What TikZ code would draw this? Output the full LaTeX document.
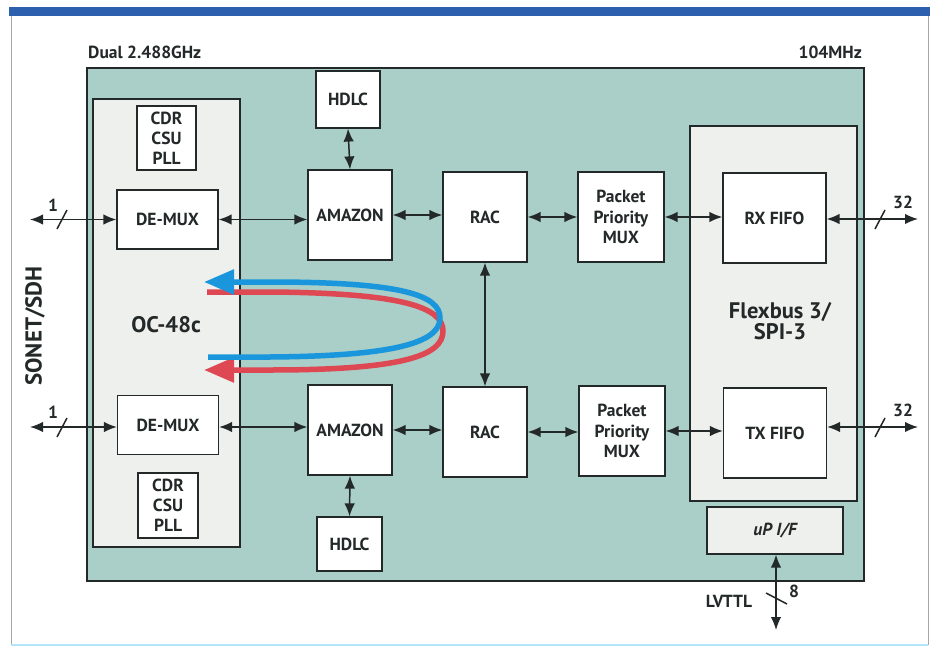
\documentclass[tikz,border=0pt]{standalone}
\usepackage{fontspec}
\setmainfont{PT Sans}
\usetikzlibrary{arrows.meta}
\definecolor{tealbg}{RGB}{170,206,200}
\definecolor{panelgray}{RGB}{238,240,238}
\definecolor{barblue}{RGB}{45,95,175}
\definecolor{loopblue}{RGB}{25,150,220}
\definecolor{loopred}{RGB}{222,72,82}
\definecolor{linedark}{RGB}{35,40,40}
\tikzset{
  blk/.style={draw=linedark, line width=1.2pt, fill=white, inner sep=0pt, align=center,
              font=\bfseries\fontsize{17.5}{19}\selectfont, text=linedark},
  conn/.style={{Latex[length=13pt,width=10.5pt]}-{Latex[length=13pt,width=10.5pt]}, line width=1.5pt, draw=linedark},
  slash/.style={line width=1.5pt, draw=linedark},
  lbl/.style={font=\bfseries\fontsize{17.5}{19}\selectfont, text=linedark, inner sep=0pt},
  loop/.style={line width=5.5pt, line cap=butt}
}
\begin{document}
\begin{tikzpicture}[x=1pt,y=-1pt]
\useasboundingbox (0,0) rectangle (933,647);
% outer frame
\draw[line width=0.8pt, draw=gray!70] (11,14) -- (11,645);
\draw[line width=0.8pt, draw=gray!70] (928,14) -- (928,645);
\draw[line width=1.2pt, draw=cyan!30] (11,645) -- (928,645);
\fill[barblue] (9,7) rectangle (930,16);
% headers
\node[lbl, anchor=west] (dual) at (88,52) {Dual 2.488GHz};
\node[lbl, anchor=east] (mhz) at (862,52) {104MHz};
% teal area
\draw[line width=1.3pt, draw=linedark, fill=tealbg] (87,68) rectangle (864,581);
% panels
\draw[line width=1.2pt, draw=linedark, fill=panelgray] (93,99) rectangle (240,547);
\draw[line width=1.2pt, draw=linedark, fill=panelgray] (690,126) rectangle (857,501);
\node[font=\bfseries\fontsize{22.5}{24}\selectfont, text=linedark] (oc) at (166,325) {OC-48c};
\node[font=\bfseries\fontsize{22.5}{21}\selectfont, text=linedark, align=center] (flex) at (780,321) {Flexbus 3/\\SPI-3};
% SONET label
\node[rotate=90, font=\bfseries\fontsize{23}{25}\selectfont, text=linedark] (sonet) at (35,326) {SONET/SDH};
% boxes
\node[blk, minimum width=59pt, minimum height=64pt] (cdr1) at (166.5,138) {CDR\\[1pt]CSU\\[1pt]PLL};
\node[blk, minimum width=101pt, minimum height=59pt] (demux1) at (167.5,219.5) {DE-MUX};
\node[blk, minimum width=101pt, minimum height=59pt] (demux2) at (168,425) {DE-MUX};
\node[blk, minimum width=60pt, minimum height=65pt] (cdr2) at (168,505.5) {CDR\\[1pt]CSU\\[1pt]PLL};
\node[blk, minimum width=64pt, minimum height=57pt] (hdlc1) at (348,99.5) {HDLC};
\node[blk, minimum width=65pt, minimum height=54pt] (hdlc2) at (349.5,544) {HDLC};
\node[blk, minimum width=84pt, minimum height=90pt] (amazon1) at (350,215) {AMAZON};
\node[blk, minimum width=84pt, minimum height=90pt] (amazon2) at (350,430) {AMAZON};
\node[blk, minimum width=84pt, minimum height=90pt] (rac1) at (485,217) {RAC};
\node[blk, minimum width=84pt, minimum height=90pt] (rac2) at (485,432) {RAC};
\node[blk, minimum width=86pt, minimum height=90pt] (ppm1) at (621,217) {Packet\\[1.5pt]Priority\\[1.5pt]MUX};
\node[blk, minimum width=86pt, minimum height=90pt] (ppm2) at (622,431) {Packet\\[1.5pt]Priority\\[1.5pt]MUX};
\node[blk, minimum width=103pt, minimum height=90pt] (rx) at (774.5,218) {RX FIFO};
\node[blk, minimum width=103pt, minimum height=90pt] (tx) at (775,433) {TX FIFO};
\node[blk, fill=panelgray, minimum width=136pt, minimum height=47pt, font=\bfseries\itshape\fontsize{17.5}{19}\selectfont] (up) at (775,530.5) {uP I/F};
% loops
\draw[loop, draw=loopred, -{Triangle[length=30pt,width=24pt]}]
  (207,292) -- (270,292) .. controls (405,293) and (443,308) .. (443,331)
  .. controls (443,355) and (405,370) .. (270,370) -- (204,370);
\draw[loop, draw=loopblue, -{Triangle[length=30pt,width=24pt]}]
  (208,357) -- (270,357) .. controls (405,356) and (440,340) .. (440,318)
  .. controls (440,296) and (405,282) .. (270,282) -- (204,282);
% left I/O
\coordinate (l1) at (30,219.5);
\coordinate (l2) at (30,427);
\draw[conn] (l1) -- (demux1.west |- l1);
\draw[conn] (l2) -- (demux2.west |- l2);
\draw[slash] (57,229) -- (67,210);
\draw[slash] (57,437) -- (67,418);
\node[lbl] (n1a) at (53,205) {1};
\node[lbl] (n1b) at (53,412) {1};
% horizontal chain top
\draw[conn] (demux1.east) -- (demux1.east -| amazon1.west);
\draw[conn] (amazon1.east) -- (amazon1.east -| rac1.west);
\draw[conn] (rac1.east) -- (rac1.east -| ppm1.west);
\draw[conn] (ppm1.east) -- (ppm1.east -| rx.west);
% horizontal chain bottom
\draw[conn] (demux2.east |- l2) -- (amazon2.west |- l2);
\draw[conn] (amazon2.east) -- (amazon2.east -| rac2.west);
\draw[conn] (rac2.east) -- (rac2.east -| ppm2.west);
\draw[conn] (ppm2.east) -- (ppm2.east -| tx.west);
% verticals
\draw[conn] (hdlc1.south) -- (amazon1.north);
\draw[conn] (amazon2.south) -- (hdlc2.north);
\draw[conn] (rac1.south) -- (rac2.north);
% right I/O
\coordinate (r1) at (918,219);
\coordinate (r2) at (918,427);
\draw[conn] (rx.east |- r1) -- (r1);
\draw[conn] (tx.east |- r2) -- (r2);
\draw[slash] (875,229) -- (885,210);
\draw[slash] (875,437) -- (885,418);
\node[lbl] (n32a) at (903,202) {32};
\node[lbl] (n32b) at (903,410) {32};
% LVTTL
\coordinate (lv) at (776,630);
\draw[conn] (up.south -| lv) -- (lv);
\draw[slash] (766,593) -- (787,604);
\node[lbl] (n8) at (794,591) {8};
\node[lbl] (lvttl) at (729,601) {LVTTL};
\end{tikzpicture}
\end{document}
